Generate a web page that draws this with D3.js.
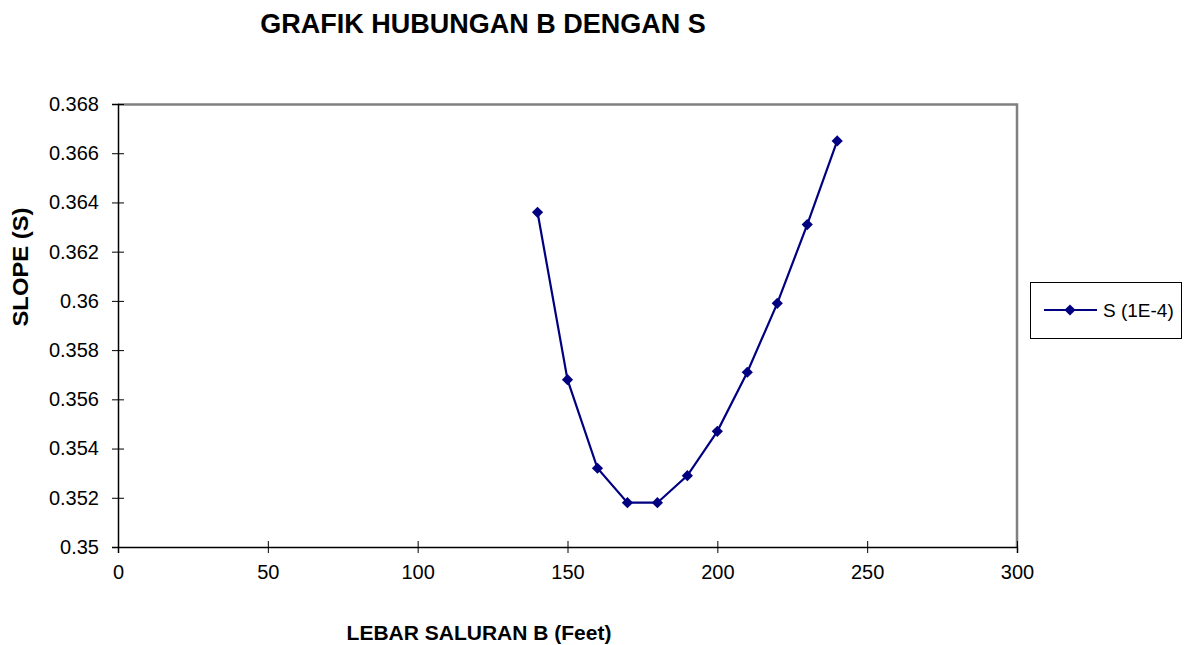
<!DOCTYPE html>
<html>
<head>
<meta charset="utf-8">
<script src="https://cdn.jsdelivr.net/npm/d3@7"></script>
<style>
  body { margin: 0; background: #fff; overflow: hidden; }
  text { font-family: Arial, 'Liberation Sans', sans-serif; }
</style>
</head>
<body>
<div id="chart"></div>
<script>
const lebarB = [140, 150, 160, 170, 180, 190, 200, 210, 220, 230, 240]
const slopeS = [0.3636, 0.3568, 0.3532, 0.3518, 0.3518, 0.3529, 0.3547, 0.3571, 0.3599, 0.3631, 0.3665]
const xTicks = [0, 50, 100, 150, 200, 250, 300]
const yTicks = [0.35, 0.352, 0.354, 0.356, 0.358, 0.36, 0.362, 0.364, 0.366, 0.368]
const seriesName = 'S (1E-4)'

const width = 1189, height = 645
const padding = { top: 104, left: 118, right: 172, bottom: 98 }
const innerWidth = width - padding.left - padding.right
const innerHeight = height - padding.top - padding.bottom
const color = '#000080'

const xScale = d3.scaleLinear().domain([0, 300]).range([0, innerWidth])
const yScale = d3.scaleLinear().domain([0.35, 0.368]).range([innerHeight, 0])

const svg = d3.select('#chart').append('svg')
              .attr('width', width)
              .attr('height', height)
              .style('display', 'block')

const graph = svg.append('g')
                 .attr('transform', `translate(${padding.left}, ${padding.top})`)

// grey frame on top and right
graph.append('path')
     .attr('d', `M0,0.5H${innerWidth}V${innerHeight}`)
     .attr('fill', 'none')
     .attr('stroke', '#808080')
     .attr('stroke-width', 2.5)

// x axis
const xAxis = graph.append('g')
     .attr('transform', `translate(0, ${innerHeight})`)
     .call(d3.axisBottom(xScale).tickValues(xTicks).tickSize(6).tickPadding(12).tickFormat(d3.format('d')))
xAxis.selectAll('.tick line').attr('y1', -6)

// y axis
const yAxis = graph.append('g')
     .call(d3.axisLeft(yScale).tickValues(yTicks).tickSize(6).tickPadding(13).tickFormat(d => +d.toFixed(3)))
yAxis.selectAll('.tick line').attr('x1', 6)

graph.selectAll('.domain').attr('stroke', '#000').attr('stroke-width', 1.5)
graph.selectAll('.tick line').attr('stroke', '#000')
graph.selectAll('.tick text')
     .style('font-size', '20px')
     .style('font-family', 'Arial, "Liberation Sans", sans-serif')
     .attr('fill', '#000')

// line
const line = d3.line()
               .x((d, i) => xScale(lebarB[i]))
               .y(d => yScale(d))

graph.append('path')
     .datum(slopeS)
     .attr('d', line)
     .attr('fill', 'none')
     .attr('stroke', color)
     .attr('stroke-width', 2.2)

const diamond = d3.symbol().type(d3.symbolDiamond2).size(80)

graph.selectAll('.pt')
     .data(slopeS)
     .join('path')
     .attr('class', 'pt')
     .attr('d', diamond)
     .attr('transform', (d, i) => `translate(${xScale(lebarB[i])}, ${yScale(d)})`)
     .attr('fill', color)

// title
svg.append('text')
   .text('GRAFIK HUBUNGAN B DENGAN S')
   .attr('x', 483)
   .attr('y', 33)
   .attr('text-anchor', 'middle')
   .style('font-size', '27px')
   .style('font-weight', '700')

// axis titles
svg.append('text')
   .text('LEBAR SALURAN B (Feet)')
   .attr('x', 479)
   .attr('y', 640)
   .attr('text-anchor', 'middle')
   .style('font-size', '21px')
   .style('font-weight', '700')

svg.append('text')
   .text('SLOPE (S)')
   .attr('transform', `translate(28, 267) rotate(-90)`)
   .attr('text-anchor', 'middle')
   .attr('textLength', 119)
   .attr('lengthAdjust', 'spacingAndGlyphs')
   .style('font-size', '22px')
   .style('font-weight', '700')

// legend
const legend = svg.append('g').attr('transform', 'translate(1030, 282)')
legend.append('rect')
      .attr('x', 0.5).attr('y', 0.5)
      .attr('width', 151).attr('height', 56)
      .attr('fill', '#fff')
      .attr('stroke', '#000')
legend.append('line')
      .attr('x1', 14).attr('x2', 67)
      .attr('y1', 28).attr('y2', 28)
      .attr('stroke', color)
      .attr('stroke-width', 2.2)
legend.append('path')
      .attr('d', diamond)
      .attr('transform', 'translate(40, 28)')
      .attr('fill', color)
legend.append('text')
      .text(seriesName)
      .attr('x', 73)
      .attr('y', 35)
      .style('font-size', '19px')
</script>
</body>
</html>
